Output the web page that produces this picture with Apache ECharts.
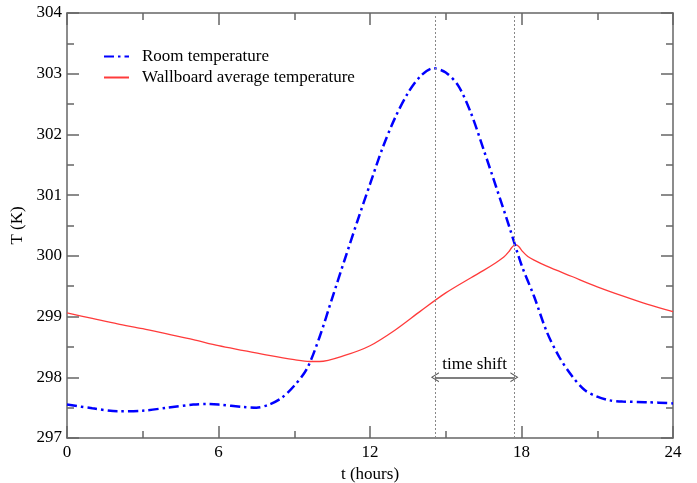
<!DOCTYPE html>
<html>
<head>
<meta charset="utf-8">
<script src="https://cdn.jsdelivr.net/npm/echarts@6/dist/echarts.min.js"></script>
<style>html,body{margin:0;padding:0;background:#fff;}#c{width:697px;height:483px;}</style>
</head>
<body>
<div id="c"></div>
<script>
const roomT = [0,1,2,3,4,5,5.5,6,7,7.5,8,8.5,9,9.5,10,10.5,11,11.5,12,12.5,13,13.5,14,14.5,15,15.5,16,16.5,17,17.5,18,18.5,19,19.5,20,20.5,21,21.5,22,23,24];
const roomVal = [297.55,297.49,297.44,297.45,297.50,297.55,297.56,297.55,297.51,297.50,297.55,297.66,297.86,298.14,298.66,299.3,299.94,300.57,301.18,301.78,302.28,302.68,302.96,303.09,303.02,302.8,302.35,301.75,301.13,300.5,299.85,299.33,298.75,298.33,298.02,297.79,297.68,297.62,297.6,297.59,297.57];
const wallT = [0,1,2,3,4,5,6,7,8,9,9.6,10,11,12,13,14,15,16,16.5,17,17.3,17.5,17.6,17.7,17.8,17.9,18.05,18.25,18.5,19,20,21,22,23,24];
const wallVal = [299.06,298.97,298.88,298.8,298.71,298.62,298.52,298.44,298.36,298.29,298.26,298.26,298.36,298.52,298.78,299.09,299.39,299.64,299.76,299.89,299.98,300.07,300.13,300.17,300.18,300.15,300.07,299.99,299.93,299.83,299.66,299.49,299.34,299.2,299.08];
const shiftTimes = [14.57, 17.72];
const arrowLevel = 298.0;
const seriesNames = ['Room temperature', 'Wallboard average temperature'];

const serif = 'Liberation Serif';
const axisCol = '#666';
function xAx(pos, showLabel) {
  return {
    type: 'value', position: pos, min: 0, max: 24, interval: 6,
    name: showLabel ? 't (hours)' : '', nameLocation: 'middle', nameGap: 23,
    nameTextStyle: {fontFamily: serif, fontSize: 17, color: '#000'},
    axisLine: {show: true, onZero: false, lineStyle: {color: axisCol, width: 1.5}},
    axisTick: {show: true, inside: true, length: 12, lineStyle: {color: axisCol, width: 1.5}},
    minorTick: {show: true, splitNumber: 2, length: 7, lineStyle: {color: axisCol, width: 1.5}},
    axisLabel: {show: showLabel, fontFamily: serif, fontSize: 17, color: '#000', margin: 6},
    splitLine: {show: false}
  };
}
function yAx(pos, showLabel) {
  return {
    type: 'value', position: pos, min: 297, max: 304, interval: 1,
    name: showLabel ? 'T (K)' : '', nameLocation: 'middle', nameGap: 38,
    nameTextStyle: {fontFamily: serif, fontSize: 17, color: '#000'},
    axisLine: {show: true, onZero: false, lineStyle: {color: axisCol, width: 1.5}},
    axisTick: {show: true, inside: true, length: 12, lineStyle: {color: axisCol, width: 1.5}},
    minorTick: {show: true, splitNumber: 2, length: 7, lineStyle: {color: axisCol, width: 1.5}},
    axisLabel: {show: showLabel, fontFamily: serif, fontSize: 17, color: '#000', margin: 5},
    splitLine: {show: false}
  };
}

const chart = echarts.init(document.getElementById('c'));
chart.setOption({
  animation: false,
  backgroundColor: '#fff',
  grid: {left: 67, right: 24, top: 13, bottom: 45, containLabel: false, outerBoundsMode: 'none'},
  xAxis: [xAx('bottom', true), xAx('top', false)],
  yAxis: [yAx('left', true), yAx('right', false)],
  legend: {
    orient: 'vertical', left: 98, top: 43, itemWidth: 25, itemHeight: 14, itemGap: 4,
    data: seriesNames,
    itemStyle: {opacity: 0},
    textStyle: {fontFamily: serif, fontSize: 17, color: '#000', padding: [0,0,0,8]}
  },
  series: [
    {
      name: seriesNames[1], type: 'line', showSymbol: false, symbol: 'none', smooth: 0.3,
      data: wallT.map((t, i) => [t, wallVal[i]]),
      lineStyle: {color: '#ff3b3b', width: 1.3}, itemStyle: {color: '#ff3b3b'},
      z: 2,
      markLine: {
        silent: true, symbol: 'none',
        lineStyle: {color: '#888', type: [2, 2], width: 1},
        label: {show: false},
        data: shiftTimes.map(t => ({xAxis: t}))
      }
    },
    {
      name: seriesNames[0], type: 'line', showSymbol: false, symbol: 'none', smooth: 0.3,
      data: roomT.map((t, i) => [t, roomVal[i]]),
      lineStyle: {color: '#0000ff', width: 2.5, type: [10, 4, 2.5, 4]}, itemStyle: {color: '#0000ff'},
      z: 3,
      markLine: {
        silent: true,
        symbol: ['path://M6,0 L12,9 L10.5,9 L6,2 L1.5,9 L0,9 Z', 'path://M6,0 L12,9 L10.5,9 L6,2 L1.5,9 L0,9 Z'],
        symbolSize: [10, 8],
        lineStyle: {color: '#555', type: 'solid', width: 1.5},
        label: {show: true, position: 'middle', formatter: 'time shift', distance: 4,
                fontFamily: serif, fontSize: 17, color: '#000'},
        data: [[{coord: [shiftTimes[0], arrowLevel]}, {coord: [shiftTimes[1], arrowLevel]}]]
      }
    }
  ]
});
</script>
</body>
</html>
